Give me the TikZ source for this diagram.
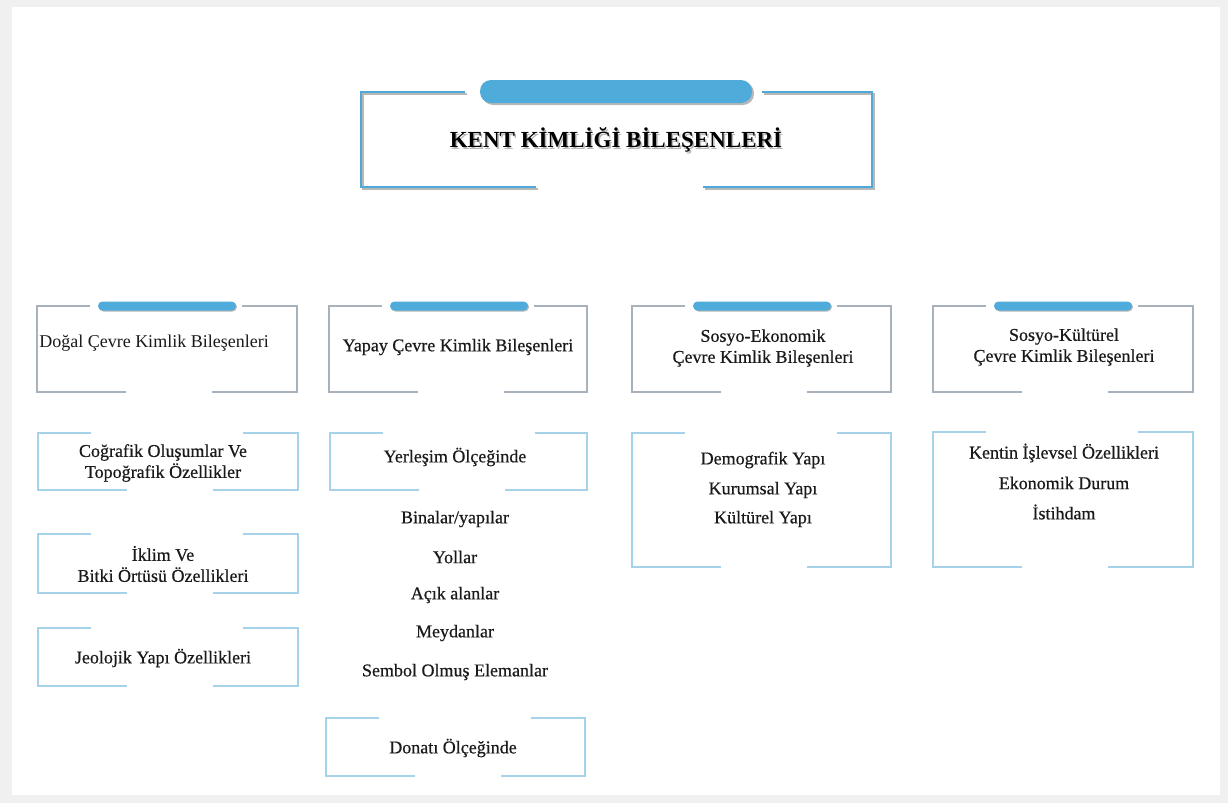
\documentclass[tikz,border=0pt]{standalone}
\usepackage{fontspec}
\setmainfont{Liberation Serif}
\newfontfamily\heavyserif[FakeBold=0.5]{Liberation Serif}
\definecolor{bgc}{HTML}{F0F0F0}
\definecolor{tblue}{HTML}{4EA8D8}
\definecolor{pillc}{HTML}{4FACDA}
\definecolor{gframe}{HTML}{A8B2BC}
\definecolor{lframe}{HTML}{A6D2EA}
\definecolor{shad}{HTML}{B8B8B8}
\definecolor{txtc}{HTML}{1A1A1A}
\newcommand\bbox[5]{%
  \draw[#5] ({#1+53},#2) -- (#1,#2) -- (#1,#4) -- ({#1+89},#4);
  \draw[#5] ({#1+205},#2) -- (#3,#2) -- (#3,#4) -- ({#1+175},#4);}
\newcommand\bpill[2]{%
  \fill[shad, rounded corners=4.5pt] ({#1+62},{#2-3.5}) rectangle ({#1+200},{#2+5.5});
  \fill[pillc, rounded corners=4.5pt] ({#1+61},{#2-4.5}) rectangle ({#1+199},{#2+4.5});}
\begin{document}
\begin{tikzpicture}[x=1pt,y=-1pt,
  lvtwo/.style={gframe, line width=1.5pt},
  lvthree/.style={lframe, line width=1.5pt},
  plain/.style={align=center, text=txtc, font=\fontsize{18}{21}\selectfont, inner sep=0pt},
  txt/.style={plain, font=\fontsize{18}{21}\selectfont\heavyserif},
  ttl/.style={font=\fontsize{23}{27}\selectfont\bfseries, inner sep=0pt}]
\fill[bgc] (0,0) rectangle (1228,803);
\fill[white] (12,7) rectangle (1220,795);
\useasboundingbox (0,0) rectangle (1228,803);

% title frame
\begin{scope}[line width=2.5pt]
  \draw[shad] (467,94) -- (363,94) -- (363,189) -- (538,189);
  \draw[shad] (764,94) -- (874,94) -- (874,189) -- (705,189);
  \draw[tblue] (465,92) -- (361,92) -- (361,187) -- (536,187);
  \draw[tblue] (762,92) -- (872,92) -- (872,187) -- (703,187);
\end{scope}
\fill[shad, rounded corners=11pt] (482,82) rectangle (754,105);
\fill[pillc, rounded corners=11pt] (480,80) rectangle (752,103);
\node[ttl, text=shad] at (617.5,141.5) {KENT KİMLİĞİ BİLEŞENLERİ};
\node[ttl] (title) at (616,140) {KENT KİMLİĞİ BİLEŞENLERİ};

% level 2
\bbox{37}{306}{297}{392}{lvtwo}   \bpill{37}{306}
\bbox{329}{306}{587}{392}{lvtwo}  \bpill{329}{306}
\bbox{632}{306}{891}{392}{lvtwo}  \bpill{632}{306}
\bbox{933}{306}{1193}{392}{lvtwo} \bpill{933}{306}
\node[plain] (dogal) at (154,343) {Doğal Çevre Kimlik Bileşenleri};
\node[txt] (yapay) at (458,347) {Yapay Çevre Kimlik Bileşenleri};
\node[txt] (sosek) at (763,348) {Sosyo-Ekonomik\\Çevre Kimlik Bileşenleri};
\node[txt] (soskul) at (1064,347) {Sosyo-Kültürel\\Çevre Kimlik Bileşenleri};

% level 3, column 1
\bbox{38}{433}{298}{490}{lvthree}
\bbox{38}{534}{298}{593}{lvthree}
\bbox{38}{628}{298}{686}{lvthree}
\node[txt] (cog) at (163,463) {Coğrafik Oluşumlar Ve\\Topoğrafik Özellikler};
\node[txt] (iklim) at (163,564) {İklim Ve\\Bitki Örtüsü Özellikleri};
\node[txt] (jeo) at (163,658) {Jeolojik Yapı Özellikleri};

% column 2
\bbox{330}{433}{587}{490}{lvthree}
\bbox{326}{718}{585}{776}{lvthree}
\node[txt] (yer) at (455,457) {Yerleşim Ölçeğinde};
\node[txt] (bin) at (455,519) {Binalar/yapılar};
\node[txt] (yol) at (455,557) {Yollar};
\node[txt] (acik) at (455,595) {Açık alanlar};
\node[txt] (mey) at (455,633) {Meydanlar};
\node[txt] (sem) at (455,672) {Sembol Olmuş Elemanlar};
\node[txt] (don) at (453,748) {Donatı Ölçeğinde};

% column 3
\bbox{632}{433}{891}{567}{lvthree}
\node[txt] (dem) at (763,460) {Demografik Yapı};
\node[txt] (kur) at (763,490) {Kurumsal Yapı};
\node[txt] (kul) at (763,519) {Kültürel Yapı};

% column 4
\bbox{933}{432}{1193}{567}{lvthree}
\node[txt] (isl) at (1064,453) {Kentin İşlevsel Özellikleri};
\node[txt] (eko) at (1064,483) {Ekonomik Durum};
\node[txt] (ist) at (1064,512) {İstihdam};
\end{tikzpicture}
\end{document}
